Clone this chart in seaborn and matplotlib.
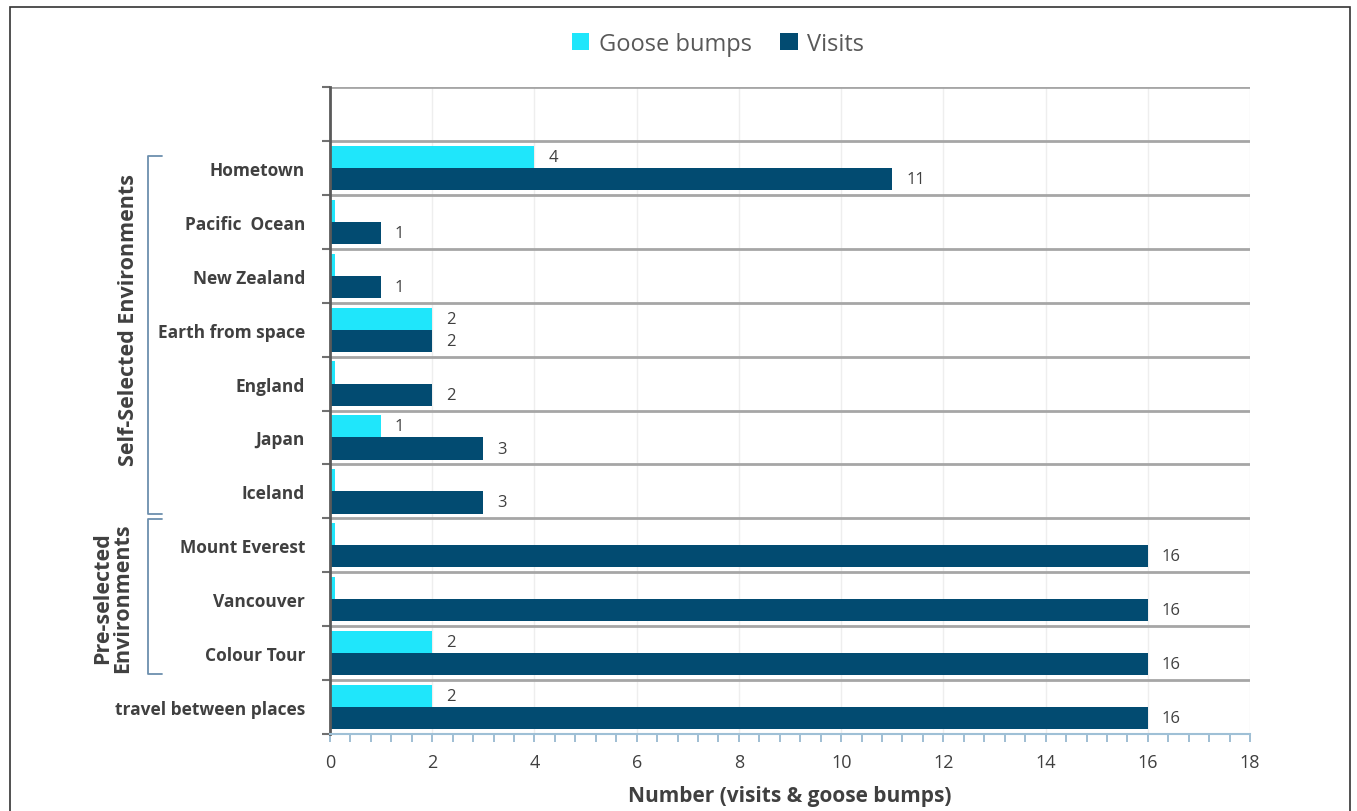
import numpy as np
import pandas as pd
import matplotlib.pyplot as plt
import seaborn as sns
from matplotlib.patches import Patch, Rectangle
from matplotlib.lines import Line2D
from matplotlib.ticker import MultipleLocator, FixedLocator

places = ["Hometown", "Pacific  Ocean", "New Zealand", "Earth from space", "England",
          "Japan", "Iceland", "Mount Everest", "Vancouver", "Colour Tour",
          "travel between places"]
goose_bumps = [4, 0, 0, 2, 0, 1, 0, 0, 0, 2, 2]
visits = [11, 1, 1, 2, 2, 3, 3, 16, 16, 16, 16]
series_names = ["Goose bumps", "Visits"]

CYAN = "#1fe6fb"
NAVY = "#024b71"
TEXT = "#404040"
ZERO_STUB = 0.1  # zero counts are drawn as a thin sliver, as in the original


def build_frame():
    gb = [v if v > 0 else ZERO_STUB for v in goose_bumps]
    df = pd.DataFrame({
        "place": places * 2,
        "count": gb + visits,
        "series": [series_names[0]] * len(places) + [series_names[1]] * len(places),
    })
    return df


def main():
    sns.set_theme(style="white")
    plt.rcParams["font.family"] = ["Open Sans", "DejaVu Sans"]

    fig = plt.figure(figsize=(13.57, 8.12), dpi=100)
    ax = fig.add_axes([0.2432, 0.0948, 0.678, 0.7968])

    df = build_frame()
    sns.barplot(data=df, y="place", x="count", hue="series", order=places,
                hue_order=series_names, palette=[CYAN, NAVY], orient="h",
                width=0.82, linewidth=0, saturation=1, legend=False, ax=ax,
                errorbar=None)

    n = len(places)
    ax.set_xlim(0, 18)
    ax.set_ylim(n - 0.5, -1.5)

    # value labels
    gb_labels = [str(v) if v > 0 else "" for v in goose_bumps]
    ax.bar_label(ax.containers[0], labels=gb_labels, padding=10,
                 fontsize=12, color=TEXT)
    ax.bar_label(ax.containers[1], labels=[str(v) for v in visits], padding=10,
                 fontsize=12, color=TEXT)

    # axes styling
    ax.set_ylabel("")
    ax.set_xlabel("Number (visits & goose bumps)", fontsize=15,
                  fontweight="bold", color=TEXT, labelpad=10)
    ax.xaxis.set_major_locator(MultipleLocator(2))
    ax.xaxis.set_minor_locator(MultipleLocator(0.4))
    ax.tick_params(axis="x", which="both", bottom=True, direction="out", length=6,
                   color="#8fb3cc", width=1.2, labelsize=13, labelcolor=TEXT, pad=8)
    ax.yaxis.set_minor_locator(FixedLocator(np.arange(-1.5, n, 1.0)))
    ax.tick_params(axis="y", which="major", length=0, labelsize=12.5,
                   labelcolor=TEXT, pad=18)
    ax.tick_params(axis="y", which="minor", left=True, length=6, width=1.5,
                   color="#707070")
    for lab in ax.get_yticklabels():
        lab.set_fontweight("bold")

    ax.grid(axis="y", which="minor", color="#a6a6a6", linewidth=2)
    ax.grid(axis="x", which="major", color="#eeeeee", linewidth=1)
    ax.set_axisbelow(True)

    for s in ["top", "right"]:
        ax.spines[s].set_visible(False)
    ax.spines["left"].set_color("#5a5a5a")
    ax.spines["left"].set_linewidth(2)
    ax.spines["bottom"].set_color("#9fc0d6")
    ax.spines["bottom"].set_linewidth(1.5)

    # legend
    handles = [Patch(facecolor=CYAN, edgecolor="none"),
               Patch(facecolor=NAVY, edgecolor="none")]
    fig.legend(handles, series_names, loc="center", bbox_to_anchor=(0.529, 0.945),
               ncol=2, frameon=False, fontsize=17, handlelength=0.75,
               handleheight=0.75, handletextpad=0.4, columnspacing=1.2,
               labelcolor="#595959")

    # group brackets (figure pixel coords converted to fraction)
    W, H = 1357.0, 812.0
    bc = "#6c8fae"

    def bracket(y_top, y_bot, x=148, tail=14):
        xs = [x + tail, x, x, x + tail]
        ys = [y_top, y_top, y_bot, y_bot]
        fig.add_artist(Line2D([v / W for v in xs], [1 - v / H for v in ys],
                              color=bc, linewidth=1.3))

    bracket(157, 515)
    bracket(520, 675)

    fig.text(128 / W, 1 - 320 / H, "Self-Selected Environments", rotation=90,
             ha="center", va="center", fontsize=15.5, fontweight="bold", color=TEXT)
    fig.text(113 / W, 1 - 598 / H, "Pre-selected\nEnvironments", rotation=90,
             ha="center", va="center", fontsize=15.5, fontweight="bold", color=TEXT,
             linespacing=0.95)

    # outer frame
    fig.add_artist(Rectangle((10 / W, -0.01), 1340 / W, 1.01 - 8 / H,
                             transform=fig.transFigure, fill=False,
                             edgecolor="#333333", linewidth=1.2))

    fig.savefig("out.png", dpi=100)


if __name__ == "__main__":
    main()
